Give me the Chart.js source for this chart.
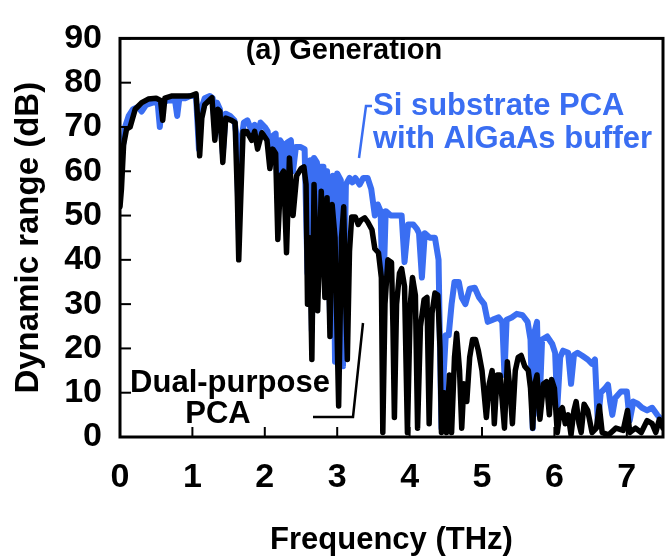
<!DOCTYPE html>
<html>
<head>
<meta charset="utf-8">
<title>Dynamic range - Generation</title>
<script src="https://cdn.jsdelivr.net/npm/chart.js@4.4.0/dist/chart.umd.min.js"></script>
<style>
  html, body { margin: 0; padding: 0; background: #fff; }
  #wrap { width: 668px; height: 559px; }
</style>
</head>
<body>
<div id="wrap"><canvas id="chart" width="668" height="559"></canvas></div>
<script>
// Frequency (THz) and dynamic range (dB)
const blueFreq = [0.00, 0.03, 0.07, 0.12, 0.18, 0.25, 0.30, 0.36, 0.45, 0.52, 0.55, 0.58, 0.66, 0.76, 0.79, 0.82, 0.90, 0.97, 1.05, 1.09,
  1.12, 1.17, 1.24, 1.28, 1.31, 1.34, 1.38, 1.42, 1.46, 1.52, 1.58, 1.61, 1.64, 1.67, 1.71, 1.76, 1.82, 1.86, 1.90, 1.94,
  2.00, 2.04, 2.07, 2.11, 2.15, 2.18, 2.21, 2.25, 2.28, 2.31, 2.36, 2.39, 2.43, 2.49, 2.55, 2.59, 2.62, 2.63, 2.65, 2.68,
  2.72, 2.74, 2.77, 2.81, 2.83, 2.86, 2.90, 2.94, 2.97, 3.00, 3.05, 3.08, 3.12, 3.17, 3.21, 3.25, 3.31, 3.36, 3.42, 3.47,
  3.52, 3.56, 3.60, 3.63, 3.67, 3.74, 3.81, 3.89, 3.93, 3.98, 4.05, 4.10, 4.13, 4.17, 4.21, 4.28, 4.35, 4.40, 4.42, 4.44,
  4.47, 4.50, 4.54, 4.58, 4.62, 4.68, 4.72, 4.77, 4.83, 4.90, 4.96, 5.03, 5.08, 5.15, 5.23, 5.28, 5.31, 5.34, 5.41, 5.48,
  5.56, 5.63, 5.67, 5.70, 5.73, 5.76, 5.79, 5.83, 5.90, 5.97, 6.01, 6.04, 6.08, 6.12, 6.19, 6.23, 6.27, 6.32, 6.38, 6.46,
  6.52, 6.56, 6.60, 6.64, 6.70, 6.74, 6.77, 6.80, 6.84, 6.92, 7.00, 7.04, 7.09, 7.15, 7.21, 7.28, 7.35, 7.42, 7.50];
const blueDb = [58, 64, 70, 72.5, 74, 74.5, 73.5, 75, 75.5, 75.5, 70, 75.5, 76, 76, 72.5, 76.5, 76.5, 77, 77, 65,
  74, 76.5, 77, 76.5, 70, 75.5, 74, 64, 73, 72.5, 71.5, 68, 47, 66, 71, 71.5, 69, 70.5, 66, 71,
  70, 69, 63, 68, 68.5, 53, 67, 66, 56, 66.5, 67, 60, 65.5, 65.5, 65, 37, 58, 62.5, 24, 63,
  62, 46, 61, 61, 48, 60, 28, 59, 17, 59.5, 58, 16, 57, 58.5, 57.5, 58.5, 57, 58.5, 58.5, 56,
  50, 52.5, 51, 28.5, 51, 50, 50, 50, 39.5, 48, 48, 47, 46, 36, 46, 45, 45, 40, 20, 2,
  14, 23, 23, 30, 35, 35, 31.5, 30, 33.5, 33.7, 31.5, 30, 26, 26.5, 27, 26, 14, 26.5, 27, 27.8,
  27.5, 26, 22, 2, 24, 26, 5, 22, 22.7, 21, 19, 6.6, 18, 19.5, 19, 12, 18.5, 19, 18.4, 17.5,
  16.5, 17.5, 3, 10, 11, 11.8, 8, 5, 8.8, 10.3, 10.3, 3.7, 8, 7.5, 6.6, 6, 6.6, 5, 3.5];

const blackFreq = [0.00, 0.02, 0.05, 0.09, 0.14, 0.21, 0.30, 0.39, 0.50, 0.56, 0.59, 0.62, 0.72, 0.86, 0.97, 1.05, 1.08, 1.10, 1.13, 1.17,
  1.27, 1.31, 1.35, 1.38, 1.42, 1.46, 1.54, 1.59, 1.62, 1.64, 1.67, 1.70, 1.75, 1.82, 1.86, 1.90, 1.96, 2.03, 2.07, 2.11,
  2.15, 2.18, 2.22, 2.26, 2.30, 2.34, 2.39, 2.44, 2.50, 2.54, 2.57, 2.59, 2.62, 2.65, 2.68, 2.73, 2.78, 2.83, 2.86, 2.90,
  2.93, 2.97, 3.02, 3.06, 3.09, 3.11, 3.14, 3.17, 3.20, 3.25, 3.29, 3.33, 3.38, 3.42, 3.48, 3.52, 3.57, 3.61, 3.63, 3.66,
  3.70, 3.75, 3.77, 3.79, 3.82, 3.86, 3.89, 3.93, 3.97, 4.01, 4.04, 4.08, 4.11, 4.15, 4.20, 4.24, 4.27, 4.31, 4.35, 4.39,
  4.42, 4.44, 4.48, 4.51, 4.55, 4.58, 4.62, 4.65, 4.69, 4.72, 4.75, 4.79, 4.83, 4.87, 4.91, 4.95, 5.00, 5.06, 5.10, 5.14,
  5.17, 5.21, 5.25, 5.28, 5.31, 5.35, 5.39, 5.42, 5.46, 5.50, 5.54, 5.59, 5.64, 5.67, 5.70, 5.73, 5.76, 5.80, 5.85, 5.89,
  5.93, 5.96, 6.00, 6.04, 6.08, 6.11, 6.15, 6.19, 6.23, 6.27, 6.30, 6.34, 6.37, 6.41, 6.46, 6.52, 6.58, 6.62, 6.66, 6.75,
  6.85, 6.95, 7.01, 7.04, 7.12, 7.20, 7.28, 7.35, 7.40, 7.45, 7.50];
const blackDb = [52, 56, 66, 69.5, 70, 74, 75.5, 76.3, 76.5, 76, 71.5, 76.5, 77, 77, 77, 77.5, 70, 63.5, 72, 75,
  76.6, 67, 74, 73.5, 62, 72, 71.5, 71, 55, 40, 55, 69, 69, 67, 69, 65, 68.7, 67, 60.6, 65,
  64, 44.6, 59, 60, 41.6, 63, 50, 59, 60.6, 61, 57, 30, 45, 17.5, 57, 28.5, 55.5, 31.5, 54, 22.7,
  52.5, 45, 7, 45, 52, 35, 17.5, 42, 49.7, 49.7, 48, 49, 49.5, 48.6, 46.8, 42.5, 41.6, 36, 1, 30,
  40, 39.4, 25, 4.4, 30, 37, 38, 34, 1, 30, 36, 32, 2, 25, 31, 31.5, 3, 28, 32.5, 32,
  20, 1, 10, 1, 14, 1, 18, 23.4, 15, 2, 12, 8, 18, 22, 22, 19.5, 15, 4.4, 12, 15,
  3, 14, 14, 8, 2, 17, 10, 3, 15, 18, 18.4, 16, 15, 11, 2, 12, 14, 4, 12, 12.5,
  5, 13, 11, 1, 6, 6.6, 3, 5, 0.5, 6, 8, 3, 1, 7.4, 6, 1, 2, 7, 1, 0.5,
  2, 1.5, 6, 1, 2, 1, 3.7, 3, 1, 4, 2];

const freqTicks = [0, 1, 2, 3, 4, 5, 6, 7];
const dbTicks = [0, 10, 20, 30, 40, 50, 60, 70, 80, 90];

const BLUE = "#3a6ef2";
const FONT = "'Liberation Sans', Arial, sans-serif";

function toPoints(xs, ys) {
  return xs.map((x, i) => ({ x: x, y: ys[i] }));
}

// frame, inward tick marks, labels and leader lines
const decorations = {
  id: "decorations",
  afterDraw(chart) {
    const ctx = chart.ctx;
    const a = chart.chartArea;
    const xs = chart.scales.x;
    const ys = chart.scales.y;
    ctx.save();

    ctx.strokeStyle = "#000";
    ctx.lineWidth = 2;
    freqTicks.forEach((t) => {
      const px = xs.getPixelForValue(t);
      ctx.beginPath();
      ctx.moveTo(px, a.bottom);
      ctx.lineTo(px, a.bottom - 10);
      ctx.stroke();
    });
    dbTicks.forEach((t) => {
      const py = ys.getPixelForValue(t);
      ctx.beginPath();
      ctx.moveTo(a.left, py);
      ctx.lineTo(a.left + 11, py);
      ctx.stroke();
    });

    ctx.lineWidth = 3;
    ctx.strokeRect(a.left, a.top, a.right - a.left, a.bottom - a.top);

    // text labels
    ctx.textBaseline = "middle";
    ctx.fillStyle = "#000";
    ctx.font = "bold 29px " + FONT;
    ctx.textAlign = "center";
    ctx.fillText("(a) Generation", 344, 51);

    ctx.font = "bold 31px " + FONT;
    ctx.fillStyle = BLUE;
    ctx.textAlign = "left";
    ctx.fillText("Si substrate PCA", 373, 106);
    ctx.fillText("with AlGaAs buffer", 373, 139);

    ctx.fillStyle = "#000";
    ctx.textAlign = "center";
    ctx.fillText("Dual-purpose", 230, 383);
    ctx.fillText("PCA", 218, 414);

    // leader lines
    ctx.lineWidth = 2.5;
    ctx.strokeStyle = BLUE;
    ctx.beginPath();
    ctx.moveTo(372, 106);
    ctx.lineTo(366, 106);
    ctx.lineTo(359, 158);
    ctx.stroke();

    ctx.strokeStyle = "#000";
    ctx.beginPath();
    ctx.moveTo(313, 417);
    ctx.lineTo(353, 417);
    ctx.lineTo(363, 323);
    ctx.stroke();

    ctx.restore();
  },
};

const ctx = document.getElementById("chart").getContext("2d");
const chart = new Chart(ctx, {
  type: "line",
  data: {
    datasets: [
      {
        label: "Dual-purpose PCA",
        data: toPoints(blackFreq, blackDb),
        borderColor: "#000",
        borderWidth: 5.5,
      },
      {
        label: "Si substrate PCA with AlGaAs buffer",
        data: toPoints(blueFreq, blueDb),
        borderColor: BLUE,
        borderWidth: 6,
      },
    ],
  },
  options: {
    responsive: false,
    animation: false,
    devicePixelRatio: 1,
    layout: { padding: { top: 26, right: 5, left: 0, bottom: 0 } },
    elements: {
      point: { radius: 0 },
      line: { tension: 0, borderJoinStyle: "round", borderCapStyle: "round" },
    },
    plugins: {
      legend: { display: false },
      tooltip: { enabled: false },
    },
    scales: {
      x: {
        type: "linear",
        min: 0,
        max: 7.5,
        grid: { display: false, drawTicks: false },
        border: { display: false },
        afterBuildTicks: (scale) => {
          scale.ticks = freqTicks.map((v) => ({ value: v }));
        },
        afterFit: (scale) => {
          scale.height = 122;
        },
        ticks: {
          color: "#000",
          padding: 20,
          font: { family: FONT, size: 34, weight: "bold" },
        },
        title: {
          display: true,
          text: "Frequency (THz)",
          color: "#000",
          padding: { top: 0, bottom: 0 },
          font: { family: FONT, size: 31, weight: "bold" },
        },
      },
      y: {
        min: 0,
        max: 90,
        grid: { display: false, drawTicks: false },
        border: { display: false },
        afterBuildTicks: (scale) => {
          scale.ticks = dbTicks.map((v) => ({ value: v }));
        },
        afterFit: (scale) => {
          scale.width = 120;
        },
        ticks: {
          color: "#000",
          padding: 18,
          font: { family: FONT, size: 34, weight: "bold" },
        },
        title: {
          display: true,
          text: "Dynamic range (dB)",
          color: "#000",
          padding: { top: 9, bottom: 0 },
          font: { family: FONT, size: 33, weight: "bold" },
        },
      },
    },
  },
  plugins: [decorations],
});
</script>
</body>
</html>
